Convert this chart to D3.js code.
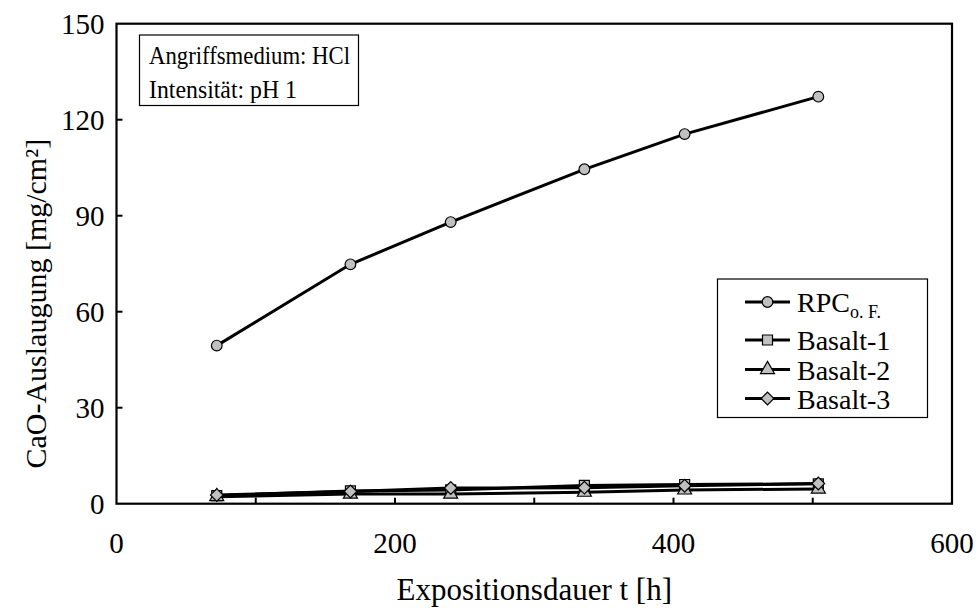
<!DOCTYPE html>
<html>
<head>
<meta charset="utf-8">
<script src="https://cdn.jsdelivr.net/npm/d3@7"></script>
<style>
  html, body { margin: 0; padding: 0; background: #fff; }
  text { font-family: "Liberation Serif", "Times New Roman", serif; fill: #000; }
</style>
</head>
<body>
<svg id="chart" width="979" height="608"></svg>
<script>
// Exposure times in hours
const hours = [72, 168, 240, 336, 408, 504];

// CaO leaching in mg/cm² per material
const rpc     = [49.4, 74.8, 88.0, 104.5, 115.5, 127.2];
const basalt1 = [2.5, 4.0, 4.3, 5.7, 6.0, 6.2];
const basalt2 = [2.2, 3.0, 3.0, 3.6, 4.3, 4.6];
const basalt3 = [2.7, 3.8, 4.9, 5.0, 5.6, 6.3];

const xTickLabels = [0, 200, 400, 600];
const xTicks = [100, 200, 300, 400, 500];
const yTicks = [0, 30, 60, 90, 120, 150];

const series = [
  { name: "RPC", sub: "o. F.", values: rpc, marker: "circle" },
  { name: "Basalt-1", values: basalt1, marker: "square" },
  { name: "Basalt-2", values: basalt2, marker: "triangle" },
  { name: "Basalt-3", values: basalt3, marker: "diamond" }
];

const svg = d3.select("#chart");
const plotLeft = 116.5, plotRight = 952, plotTop = 23.7, plotBottom = 503.7;

const x = d3.scaleLinear().domain([0, 600]).range([plotLeft, plotRight]);
const y = d3.scaleLinear().domain([0, 150]).range([plotBottom, plotTop]);

const markerFill = "#c0c0c0";
// Marker shapes; the diamond is a square turned by 45 degrees
function markerPath(type) {
  const sym = {
    circle: d3.symbol(d3.symbolCircle, 90),
    square: d3.symbol(d3.symbolSquare, 100),
    triangle: d3.symbol(d3.symbolTriangle, 85),
    diamond: d3.symbol(d3.symbolSquare, 80)
  }[type];
  return sym();
}
const markerRot = type => (type === "diamond" ? " rotate(45)" : "");

// Inward ticks
svg.append("g").selectAll("line").data(xTicks).join("line")
  .attr("x1", d => x(d)).attr("x2", d => x(d))
  .attr("y1", plotBottom).attr("y2", plotBottom - 6)
  .attr("stroke", "#000").attr("stroke-width", 2);
svg.append("g").selectAll("line").data(yTicks.slice(1, -1)).join("line")
  .attr("x1", plotLeft).attr("x2", plotLeft + 6)
  .attr("y1", d => y(d)).attr("y2", d => y(d))
  .attr("stroke", "#000").attr("stroke-width", 2);

// Plot frame
svg.append("rect")
  .attr("x", plotLeft).attr("y", plotTop)
  .attr("width", plotRight - plotLeft).attr("height", plotBottom - plotTop)
  .attr("fill", "none").attr("stroke", "#000").attr("stroke-width", 2.2);

// Tick labels
svg.append("g").selectAll("text").data(xTickLabels).join("text")
  .attr("x", d => x(d)).attr("y", plotBottom + 49)
  .attr("text-anchor", "middle").attr("font-size", 29)
  .text(d => d);
svg.append("g").selectAll("text").data(yTicks).join("text")
  .attr("x", plotLeft - 12).attr("y", d => y(d) + 10)
  .attr("text-anchor", "end").attr("font-size", 29)
  .text(d => d);

// Axis titles
svg.append("text")
  .attr("x", (plotLeft + plotRight) / 2).attr("y", 600)
  .attr("text-anchor", "middle").attr("font-size", 31)
  .text("Expositionsdauer t [h]");
svg.append("text")
  .attr("transform", `translate(46, ${(plotTop + plotBottom) / 2 + 40}) rotate(-90)`)
  .attr("text-anchor", "middle").attr("font-size", 30)
  .text("CaO-Auslaugung [mg/cm²]");

// Lines and markers
const line = d3.line().x((d, i) => x(hours[i])).y(d => y(d));
series.forEach(s => {
  svg.append("path").datum(s.values)
    .attr("d", line)
    .attr("fill", "none").attr("stroke", "#000").attr("stroke-width", 3);
});
series.forEach(s => {
  svg.append("g").selectAll("path").data(s.values).join("path")
    .attr("d", markerPath(s.marker))
    .attr("transform", (d, i) => `translate(${x(hours[i])},${y(d)})${markerRot(s.marker)}`)
    .attr("fill", markerFill).attr("stroke", "#000").attr("stroke-width", 1.2);
});

// Info box
const info = svg.append("g");
info.append("rect").attr("x", 139.5).attr("y", 35).attr("width", 219).attr("height", 70.5)
  .attr("fill", "#fff").attr("stroke", "#000").attr("stroke-width", 1.2);
info.append("text").attr("x", 149).attr("y", 64).attr("font-size", 25)
  .attr("textLength", 201).attr("lengthAdjust", "spacingAndGlyphs").text("Angriffsmedium: HCl");
info.append("text").attr("x", 149).attr("y", 98).attr("font-size", 25)
  .attr("textLength", 148).attr("lengthAdjust", "spacingAndGlyphs").text("Intensität: pH 1");

// Legend
const lg = svg.append("g");
lg.append("rect").attr("x", 717.5).attr("y", 279).attr("width", 210).attr("height", 138.5)
  .attr("fill", "#fff").attr("stroke", "#000").attr("stroke-width", 1.2);
const rowY = [302, 340, 369.5, 398.5];
series.forEach((s, i) => {
  const g = lg.append("g");
  g.append("line").attr("x1", 745).attr("x2", 790).attr("y1", rowY[i]).attr("y2", rowY[i])
    .attr("stroke", "#000").attr("stroke-width", 3);
  g.append("path").attr("d", markerPath(s.marker))
    .attr("transform", `translate(767.5,${rowY[i]})${markerRot(s.marker)}`)
    .attr("fill", markerFill).attr("stroke", "#000").attr("stroke-width", 1.2);
  const t = g.append("text").attr("x", 797).attr("y", rowY[i] + 10).attr("font-size", 28);
  t.append("tspan").text(s.name);
  if (s.sub) {
    t.append("tspan").attr("font-size", 18).attr("dy", 6).text(s.sub);
  }
});
</script>
</body>
</html>
